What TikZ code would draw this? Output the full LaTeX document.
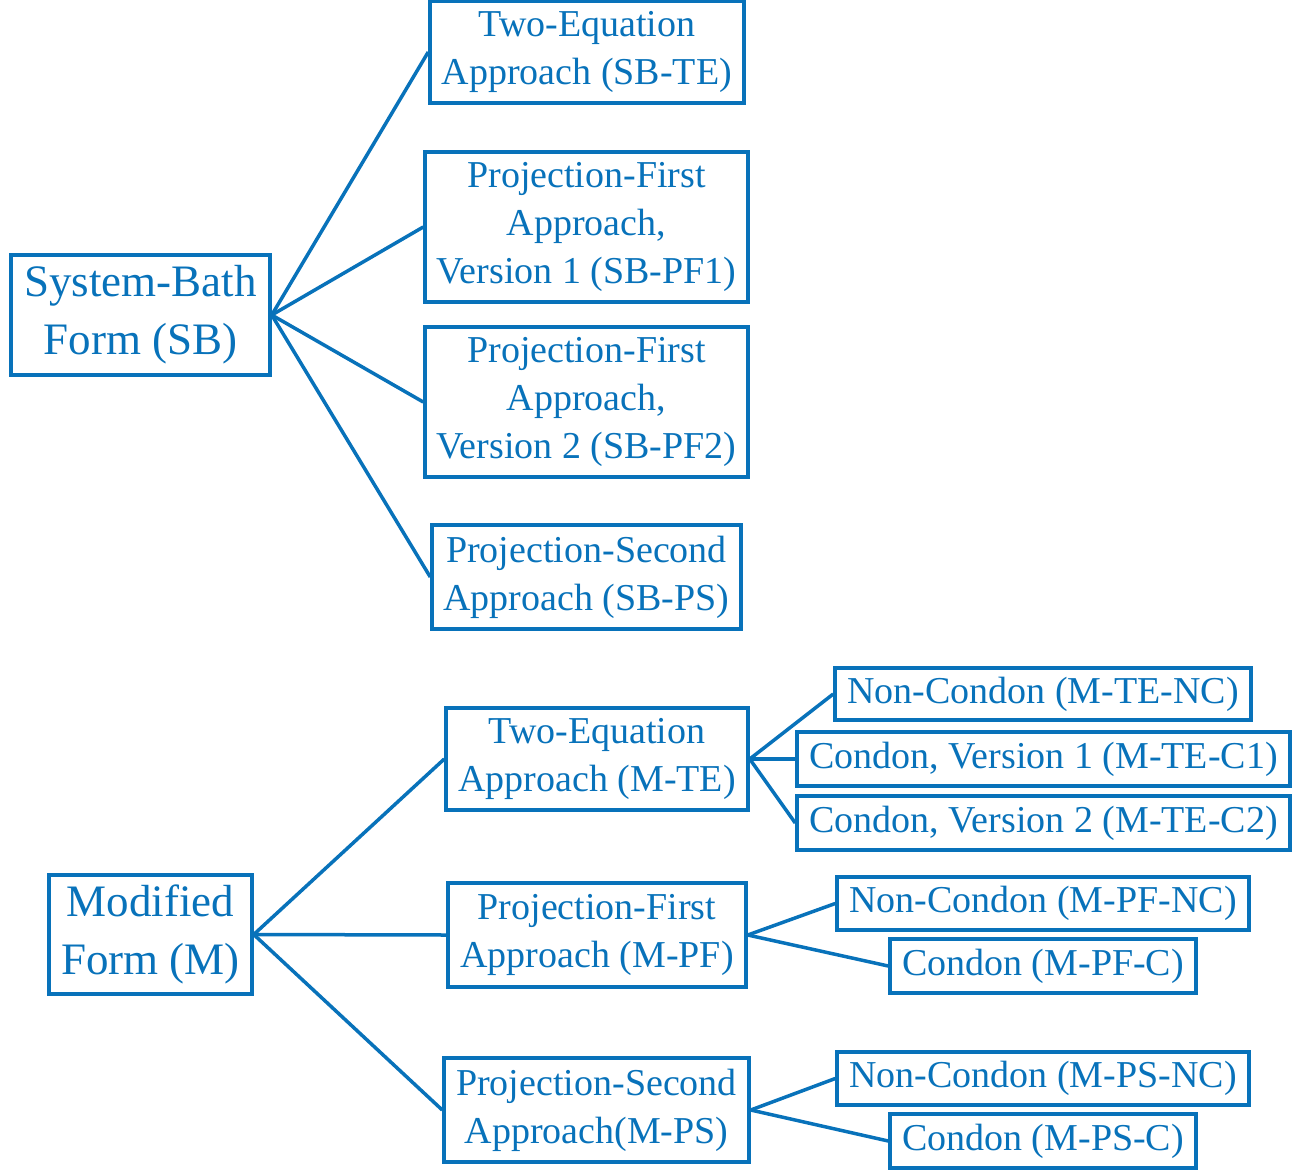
\documentclass[tikz,border=0pt]{standalone}
\usepackage{fontspec}
\setmainfont{Liberation Serif}
\definecolor{mblue}{RGB}{8,114,186}
\begin{document}
\begin{tikzpicture}[x=1pt,y=-1pt,
  box/.style args={#1/#2}{draw=mblue,line width=3.5pt,text=mblue,inner sep=0pt,
    minimum width=#1pt,minimum height=#2pt,align=center,
    font=\fontsize{38}{48}\selectfont},
  bigbox/.style args={#1/#2}{box=#1/#2,font=\fontsize{45}{58}\selectfont},
  conn/.style={draw=mblue,line width=3.5pt}]
\useasboundingbox (0,0) rectangle (1306,1170);
% System-Bath branch
\node[bigbox=259/120] (sb) at (140.5,315) {System-Bath\\Form (SB)};
\node[box=314/102] (sbte) at (587,52) {Two-Equation\\Approach (SB-TE)};
\node[box=323/150] (sbpf1) at (586.5,227) {Projection-First\\Approach,\\Version 1 (SB-PF1)};
\node[box=323/150] (sbpf2) at (586.5,402) {Projection-First\\Approach,\\Version 2 (SB-PF2)};
\node[box=309/104] (sbps) at (586.5,577) {Projection-Second\\Approach (SB-PS)};
\foreach \c in {sbte,sbpf1,sbpf2,sbps} \draw[conn] (sb.east) -- (\c.west);
% Modified branch
\node[bigbox=203/119] (m) at (150.5,934.5) {Modified\\Form (M)};
\node[box=302/102] (mte) at (597,759) {Two-Equation\\Approach (M-TE)};
\node[box=298/104] (mpf) at (597,935) {Projection-First\\Approach (M-PF)};
\node[box=305/104] (mps) at (596.5,1110) {Projection-Second\\Approach(M-PS)};
\foreach \c in {mte,mpf,mps} \draw[conn] (m.east) -- (\c.west);
\node[box=416/52] (mtenc) at (1043,694) {Non-Condon (M-TE-NC)};
\node[box=493/54] (mtec1) at (1043.5,759) {Condon, Version 1 (M-TE-C1)};
\node[box=493/54] (mtec2) at (1043.5,823) {Condon, Version 2 (M-TE-C2)};
\foreach \c in {mtenc,mtec1,mtec2} \draw[conn] (mte.east) -- (\c.west);
\node[box=412/53] (mpfnc) at (1043,903.5) {Non-Condon (M-PF-NC)};
\node[box=306/54] (mpfc) at (1043,966) {Condon (M-PF-C)};
\foreach \c in {mpfnc,mpfc} \draw[conn] (mpf.east) -- (\c.west);
\node[box=412/53] (mpsnc) at (1043,1078.5) {Non-Condon (M-PS-NC)};
\node[box=306/54] (mpsc) at (1043,1141) {Condon (M-PS-C)};
\foreach \c in {mpsnc,mpsc} \draw[conn] (mps.east) -- (\c.west);
\end{tikzpicture}
\end{document}
